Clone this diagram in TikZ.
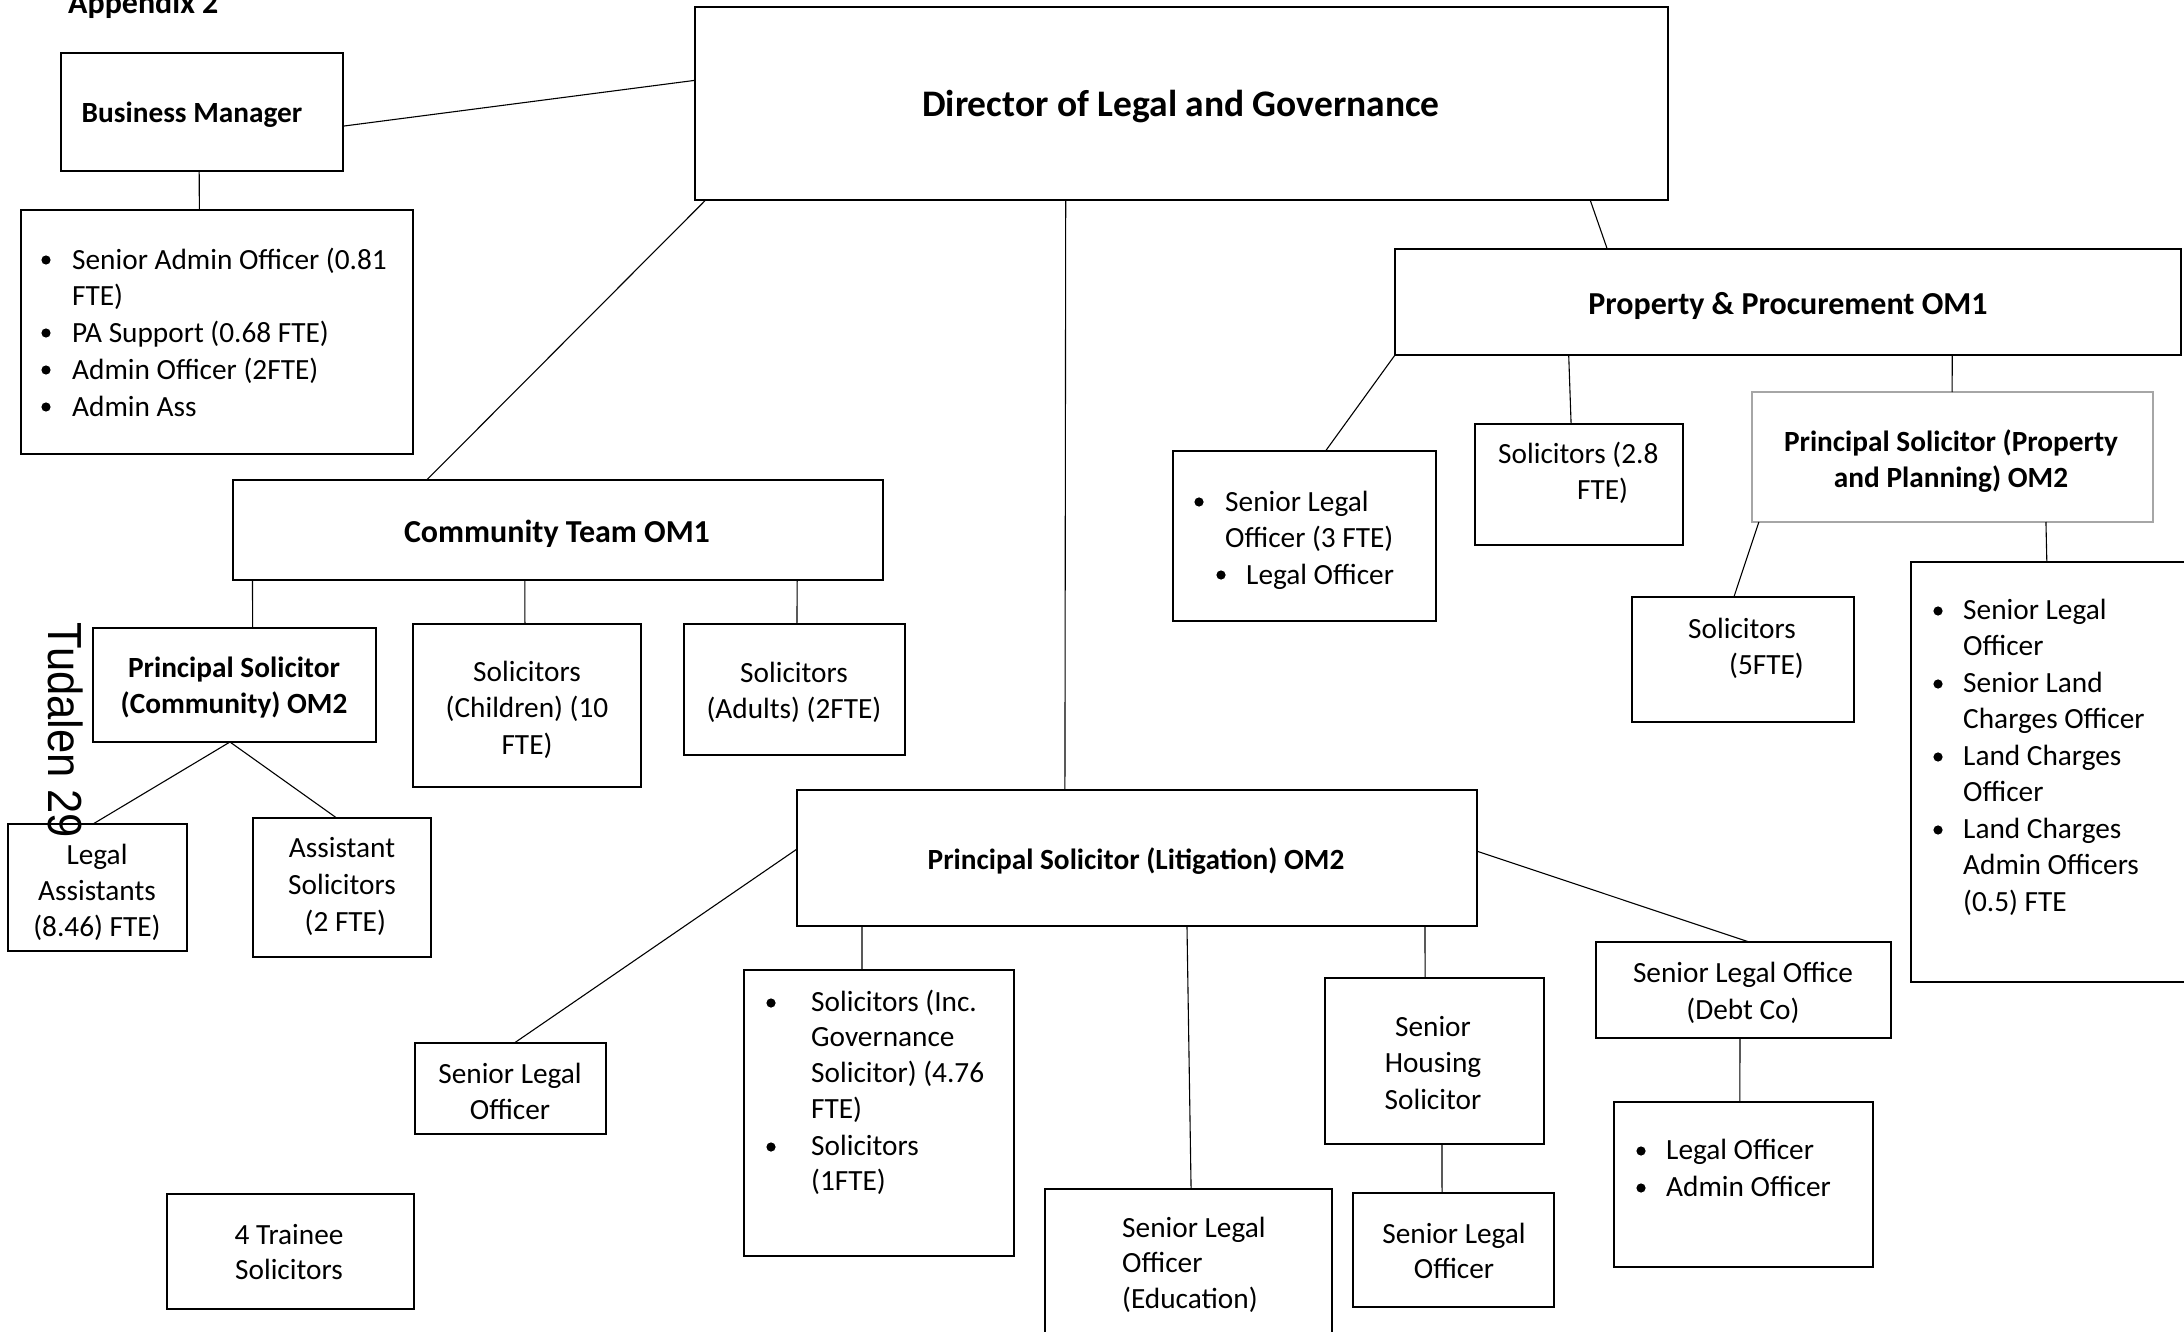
\documentclass[tikz,border=0pt]{standalone}
\usepackage{fontspec}
\setmainfont{Carlito}
\newfontfamily\pagefont{Liberation Sans}
\usetikzlibrary{calc}

% Box whose top-left corner is (x1,y1) and bottom-right corner is (x2,y2)
\newcommand\orgbox[6][]{%
  \node[box,#1,anchor=north west,
        minimum width={(#4-#2)*1pt},minimum height={(#5-#3)*1pt}] (#6) at (#2,#3) {};}

\begin{document}
\begin{tikzpicture}[x=1pt,y=-1pt,
  box/.style={draw,line width=2.2pt,inner sep=0pt,outer sep=0pt},
  greybox/.style={draw=black!35},
  link/.style={line width=1.1pt},
  txt/.style={inner sep=0pt,align=center,font=\fontsize{29.3}{36.5}\selectfont},
  txtl/.style={inner sep=0pt,align=left,font=\fontsize{29.3}{36.5}\selectfont},
  head/.style={inner sep=0pt,align=center,font=\bfseries\fontsize{29.3}{36.5}\selectfont},
  bighead/.style={inner sep=0pt,align=center,font=\bfseries\fontsize{32}{38}\selectfont},
  dot/.style={fill=black},
]
\clip (0,0) rectangle (2184,1332);
\fill[white] (0,0) rectangle (2184,1332);

% ---------- boxes ----------
\orgbox{695}{7}{1668}{200}{dir}
\orgbox{61}{53}{343}{171}{bm}
\orgbox{21}{210}{413}{454}{admin}
\orgbox{233}{480}{883}{580}{comm}
\orgbox{93}{628}{376}{742}{psc}
\orgbox{413}{624}{641}{787}{solch}
\orgbox{684}{624}{905}{755}{solad}
\orgbox{8}{824}{187}{951}{legas}
\orgbox{253}{818}{431}{957}{asssol}
\orgbox{797}{790}{1477}{926}{pslit}
\orgbox{415}{1043}{606}{1134}{slo1}
\orgbox{744}{970}{1014}{1256}{solinc}
\orgbox{1045}{1189}{1332}{1345}{edu}
\orgbox{1325}{978}{1544}{1144}{housing}
\orgbox{1353}{1193}{1554}{1307}{slo2}
\orgbox{1596}{942}{1891}{1038}{debt}
\orgbox{1614}{1102}{1873}{1267}{legoff}
\orgbox{167}{1194}{414}{1309}{trainee}
\orgbox{1395}{249}{2181}{355}{pp}
\orgbox{1173}{451}{1436}{621}{slo3}
\orgbox{1475}{424}{1683}{545}{sol28}
\orgbox[greybox]{1752}{392}{2153}{522}{psprop}
\orgbox{1632}{597}{1854}{722}{sol5}
\orgbox{1911}{562}{2200}{982}{landch}

% ---------- connectors ----------
\draw[link] ($(bm.north east)!0.62!(bm.south east)$) -- ($(dir.north west)!0.38!(dir.south west)$);
\draw[link] ($(bm.south west)!0.49!(bm.south east)$) -- ($(admin.north west)!0.455!(admin.north east)$);
\draw[link] ($(dir.south west)!0.011!(dir.south east)$) -- ($(comm.north west)!0.298!(comm.north east)$);
\draw[link] ($(dir.south west)!0.381!(dir.south east)$) -- ($(pslit.north west)!0.394!(pslit.north east)$);
\draw[link] ($(dir.south west)!0.92!(dir.south east)$) -- ($(pp.north west)!0.27!(pp.north east)$);
\draw[link] ($(comm.south west)!0.03!(comm.south east)$) -- ($(psc.north west)!0.564!(psc.north east)$);
\draw[link] ($(comm.south west)!0.449!(comm.south east)$) -- ($(solch.north west)!0.491!(solch.north east)$);
\draw[link] ($(comm.south west)!0.868!(comm.south east)$) -- ($(solad.north west)!0.511!(solad.north east)$);
\draw[link] ($(psc.south west)!0.484!(psc.south east)$) -- ($(legas.north west)!0.475!(legas.north east)$);
\draw[link] ($(psc.south west)!0.484!(psc.south east)$) -- ($(asssol.north west)!0.47!(asssol.north east)$);
\draw[link] ($(pslit.north west)!0.434!(pslit.south west)$) -- ($(slo1.north west)!0.52!(slo1.north east)$);
\draw[link] ($(pslit.south west)!0.0956!(pslit.south east)$) -- ($(solinc.north west)!0.437!(solinc.north east)$);
\draw[link] ($(pslit.south west)!0.5735!(pslit.south east)$) -- ($(edu.north west)!0.509!(edu.north east)$);
\draw[link] ($(pslit.south west)!0.9235!(pslit.south east)$) -- ($(housing.north west)!0.457!(housing.north east)$);
\draw[link] ($(pslit.north east)!0.45!(pslit.south east)$) -- ($(debt.north west)!0.519!(debt.north east)$);
\draw[link] ($(housing.south west)!0.534!(housing.south east)$) -- ($(slo2.north west)!0.443!(slo2.north east)$);
\draw[link] ($(debt.south west)!0.488!(debt.south east)$) -- ($(legoff.north west)!0.486!(legoff.north east)$);
\draw[link] (pp.south west) -- ($(slo3.north west)!0.58!(slo3.north east)$);
\draw[link] ($(pp.south west)!0.221!(pp.south east)$) -- ($(sol28.north west)!0.462!(sol28.north east)$);
\draw[link] ($(pp.south west)!0.709!(pp.south east)$) -- ($(psprop.north west)!0.499!(psprop.north east)$);
\draw[link] ($(psprop.south west)!0.017!(psprop.south east)$) -- ($(sol5.north west)!0.459!(sol5.north east)$);
\draw[link] ($(psprop.south west)!0.733!(psprop.south east)$) -- ($(landch.north west)!0.47!(landch.north east)$);

% ---------- texts (multi-line texts are placed by the baseline of their last line) ----------
\node[bighead,anchor=base west] (appx) at (68,14) {Appendix 2};
\node[inner sep=0pt,align=center,font=\bfseries\fontsize{37.5}{44}\selectfont,anchor=base] (dirtxt) at (1181,117) {Director of Legal and Governance};
\node[head,anchor=base] (bmtxt) at (192,123) {Business Manager};

\node[txtl,anchor=base west,font=\fontsize{29.3}{36.75}\selectfont] (admintxt) at (72,416)
  {Senior Admin Officer (0.81\\FTE)\\PA Support (0.68 FTE)\\Admin Officer (2FTE)\\Admin Ass};
\foreach \yy [count=\i] in {260,333,370,407} \fill[dot] (46,\yy) circle (4.6) coordinate (adminb\i);

\node[bighead,anchor=base] (commtxt) at (557,542) {Community Team OM1};
\node[head,anchor=base] (psctxt) at (234,713.5) {Principal Solicitor\\(Community) OM2};
\node[txt,anchor=base] (solchtxt) at (527,754) {Solicitors\\(Children) (10\\FTE)};
\node[txt,anchor=base] (soladtxt) at (794,718.5) {Solicitors\\(Adults) (2FTE)};
\node[txt,anchor=base,font=\fontsize{29.3}{36}\selectfont] (legastxt) at (97,936) {Legal\\Assistants\\(8.46) FTE)};
\node[txt,anchor=base,font=\fontsize{29.3}{37}\selectfont] (assoltxt) at (342,931) {Assistant\\Solicitors\\\ (2 FTE)};

\node[inner sep=0pt,font=\pagefont\fontsize{43.5}{50}\selectfont,rotate=-90,anchor=base west] (pagenum) at (48,622)
  {\scalebox{1}[1.1]{Tudalen 29}};

\node[head,anchor=base] (pslittxt) at (1136,869) {Principal Solicitor (Litigation) OM2};
\node[txt,anchor=base,font=\fontsize{29.3}{36}\selectfont] (slo1txt) at (510,1119) {Senior Legal\\Officer};

\node[txtl,anchor=base west,font=\fontsize{29.3}{35.8}\selectfont] (solinca) at (811,1118.4)
  {Solicitors (Inc.\\Governance\\Solicitor) (4.76\\FTE)};
\node[txtl,anchor=base west,font=\fontsize{29.3}{35.8}\selectfont] (solincb) at (811,1190.8) {Solicitors\\(1FTE)};
\fill[dot] (771,1003) circle (4.6) coordinate (solincb1);
\fill[dot] (771,1147) circle (4.6) coordinate (solincb2);

\node[txtl,anchor=base west,font=\fontsize{29.3}{35.5}\selectfont] (edutxt) at (1122,1308) {Senior Legal\\Officer\\(Education)};
\node[txt,anchor=base] (housingtxt) at (1433,1109) {Senior\\Housing\\Solicitor};
\node[txt,anchor=base,font=\fontsize{29.3}{35}\selectfont] (slo2txt) at (1454,1278) {Senior Legal\\Officer};
\node[txt,anchor=base,font=\fontsize{29.3}{37}\selectfont] (debttxt) at (1743,1019) {Senior Legal Office\\(Debt Co)};
\node[txtl,anchor=base west,font=\fontsize{29.3}{37}\selectfont] (legofftxt) at (1666,1196) {Legal Officer\\Admin Officer};
\fill[dot] (1641,1151) circle (4.6) coordinate (legoffb1);
\fill[dot] (1641,1188) circle (4.6) coordinate (legoffb2);
\node[txt,anchor=base,font=\fontsize{29.3}{35}\selectfont] (traineetxt) at (289,1279) {4 Trainee\\Solicitors};

\node[bighead,anchor=base] (pptxt) at (1788,314) {Property \& Procurement OM1};
\node[txtl,anchor=base west] (slo3a) at (1225,547.5) {Senior Legal\\Officer (3 FTE)};
\node[txtl,anchor=base west] (slo3b) at (1246,584) {Legal Officer};
\fill[dot] (1199,502) circle (4.6) coordinate (slo3b1);
\fill[dot] (1221,575) circle (4.6) coordinate (slo3b2);
\node[txtl,anchor=base west] (sol28a) at (1498,463) {Solicitors (2.8};
\node[txtl,anchor=base west] (sol28b) at (1577,499) {FTE)};
\node[head,anchor=base] (pspropttxt) at (1951,487.5) {Principal Solicitor (Property\\and Planning) OM2};
\node[txtl,anchor=base west] (sol5a) at (1688,638) {Solicitors};
\node[txtl,anchor=base west] (sol5b) at (1729,674) {(5FTE)};
\node[txtl,anchor=base west] (landtxt) at (1963,911)
  {Senior Legal\\Officer\\Senior Land\\Charges Officer\\Land Charges\\Officer\\Land Charges\\Admin Officers\\(0.5) FTE};
\foreach \yy [count=\i] in {611,684,757,830} \fill[dot] (1938,\yy) circle (4.6) coordinate (landb\i);
\end{tikzpicture}
\end{document}
